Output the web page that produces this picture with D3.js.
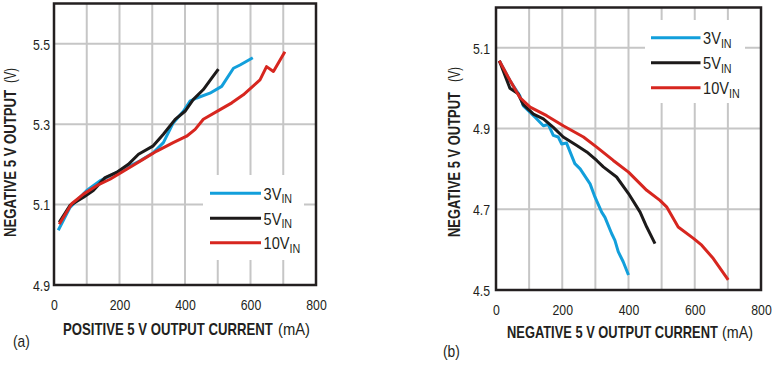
<!DOCTYPE html>
<html><head><meta charset="utf-8">
<script src="https://cdn.jsdelivr.net/npm/d3@7"></script>
<style>
body{margin:0;background:#fff;}
svg{display:block;}
text{font-family:"Liberation Sans Narrow","Arial Narrow","Liberation Sans",Arial,sans-serif;fill:#231f20;}
</style></head>
<body>
<svg id="chart" width="775" height="367"></svg>
<script>
// ---------- data ----------
const xTicks = [0, 200, 400, 600, 800];
const yTicksA = [4.9, 5.1, 5.3, 5.5];
const yTicksB = [4.5, 4.7, 4.9, 5.1];
const seriesNames = ["3V", "5V", "10V"];
const seriesColors = ["#129fdb", "#1c1a1a", "#d7261f"];

// Panel (a): positive 5V output current (mA) vs negative 5V output (V)
const a3V = [[13,5.036],[49,5.093],[100,5.135],[140,5.159],[201,5.184],[263,5.209],[303,5.229],[334,5.254],[364,5.303],[395,5.332],[415,5.357],[436,5.365],[476,5.377],[512,5.394],[548,5.439],[568,5.447],[607,5.465]];
const a5V = [[16,5.056],[49,5.098],[90,5.118],[120,5.135],[156,5.167],[191,5.18],[227,5.2],[258,5.225],[303,5.246],[334,5.275],[370,5.312],[400,5.332],[425,5.361],[456,5.386],[481,5.414],[502,5.437]];
const a10V = [[16,5.051],[54,5.102],[90,5.126],[130,5.147],[171,5.163],[222,5.188],[273,5.213],[314,5.233],[364,5.254],[405,5.27],[431,5.287],[456,5.312],[507,5.336],[543,5.353],[578,5.373],[629,5.41],[649,5.443],[670,5.431],[705,5.48]];

// Panel (b): negative 5V output current (mA) vs negative 5V output (V)
const b3V = [[10,5.068],[42,5.019],[72,4.981],[82,4.957],[118,4.928],[143,4.907],[158,4.91],[173,4.883],[188,4.879],[198,4.862],[213,4.864],[238,4.813],[254,4.8],[284,4.763],[299,4.73],[319,4.693],[329,4.68],[349,4.64],[359,4.623],[369,4.595],[384,4.57],[400,4.537]];
const b5V = [[10,5.068],[42,5.0],[67,4.986],[82,4.96],[113,4.936],[143,4.924],[173,4.903],[203,4.879],[244,4.858],[274,4.842],[304,4.821],[324,4.805],[364,4.78],[400,4.739],[435,4.693],[455,4.656],[480,4.615]];
const b10V = [[10,5.068],[37,5.027],[72,4.977],[103,4.953],[153,4.932],[203,4.907],[264,4.879],[304,4.854],[354,4.821],[400,4.792],[455,4.747],[495,4.722],[515,4.706],[550,4.656],[596,4.628],[621,4.611],[656,4.578],[701,4.525]];

// ---------- drawing ----------
const svg = d3.select("#chart");
const SQ = 0.82; // horizontal condensing of glyphs

// place a text so that it spans exactly `len` pixels, by scaling it horizontally
function fitText(g, str, x, y, len, bold, rotate) {
  const t = g.append("text")
    .style("font-size", "16px").style("font-weight", bold ? "bold" : "normal")
    .text(str);
  const natural = t.node().getComputedTextLength();
  const s = len / natural;
  t.attr("transform", `translate(${x},${y})` + (rotate ? " rotate(-90)" : "") + ` scale(${s},1)`);
  return t;
}

function panel(cfg) {
  const g = svg.append("g");
  const x = d3.scaleLinear().domain([0, 800]).range([cfg.left, cfg.right]);
  const y = d3.scaleLinear().domain(cfg.yDomain).range([cfg.bottom, cfg.top]);

  // gridlines
  const gridX = d3.range(100, 800, 100);
  g.selectAll(".gx").data(gridX).enter().append("line")
    .attr("x1", d => x(d)).attr("x2", d => x(d))
    .attr("y1", cfg.top).attr("y2", cfg.bottom)
    .attr("stroke", "#c6c6c6").attr("stroke-width", 2);
  g.selectAll(".gy").data(cfg.yTicks.slice(1)).enter().append("line")
    .attr("x1", cfg.left).attr("x2", cfg.right)
    .attr("y1", d => y(d)).attr("y2", d => y(d))
    .attr("stroke", "#c6c6c6").attr("stroke-width", 2);

  // legend background
  g.append("rect").attr("x", cfg.legBox[0]).attr("y", cfg.legBox[1])
    .attr("width", cfg.legBox[2]).attr("height", cfg.legBox[3]).attr("fill", "#fff");

  // series
  const line = d3.line().x(d => x(d[0])).y(d => y(d[1]));
  cfg.series.forEach((s, i) => {
    g.append("path").datum(s).attr("d", line)
      .attr("fill", "none").attr("stroke", seriesColors[i])
      .attr("stroke-width", 3).attr("stroke-linejoin", "round").attr("stroke-linecap", "butt");
  });

  // frame
  g.append("rect").attr("x", cfg.left).attr("y", cfg.top)
    .attr("width", cfg.right - cfg.left).attr("height", cfg.bottom - cfg.top)
    .attr("fill", "none").attr("stroke", "#231f20").attr("stroke-width", 2.5);

  // axes (labels only)
  const xAxis = d3.axisBottom(x).tickValues(xTicks).tickSize(0).tickPadding(0).tickFormat(d3.format("d"));
  const xa = g.append("g").attr("transform", `translate(0,${cfg.bottom})`).call(xAxis);
  xa.select(".domain").remove();
  xa.selectAll("text").attr("dy", null).attr("y", cfg.xTickDy)
    .attr("transform", `scale(${SQ},1)`)
    .style("font-size", "15px").attr("fill", "#231f20");

  const yAxis = d3.axisLeft(y).tickValues(cfg.yTicks).tickSize(0).tickFormat(d3.format(".1f"));
  const ya = g.append("g").attr("transform", `translate(${cfg.left},0)`).call(yAxis);
  ya.select(".domain").remove();
  ya.selectAll("text").attr("x", -cfg.yTickPad / SQ).attr("dy", "0.36em")
    .attr("transform", `scale(${SQ},1)`)
    .style("font-size", "15px").attr("fill", "#231f20");

  // axis titles (bold part + unit, each fitted to the reference extent)
  fitText(g, cfg.xTitle, cfg.xTitleBold[0], cfg.xTitleY, cfg.xTitleBold[1] - cfg.xTitleBold[0], true, false);
  fitText(g, "(mA)", cfg.xTitleUnit[0], cfg.xTitleY, cfg.xTitleUnit[1] - cfg.xTitleUnit[0], false, false);
  fitText(g, "NEGATIVE 5 V OUTPUT", cfg.yTitleX, cfg.yTitleBold[1], cfg.yTitleBold[1] - cfg.yTitleBold[0], true, true);
  fitText(g, "(V)", cfg.yTitleX, cfg.yTitleUnit[1], cfg.yTitleUnit[1] - cfg.yTitleUnit[0], false, true);

  // legend
  seriesNames.forEach((n, i) => {
    const ly = cfg.legY[i];
    g.append("line").attr("x1", cfg.legX[0]).attr("x2", cfg.legX[1])
      .attr("y1", ly).attr("y2", ly).attr("stroke", seriesColors[i]).attr("stroke-width", 3);
    const t = g.append("text")
      .attr("transform", `translate(${cfg.legX[1] + 2.5},${ly + 6.5}) scale(0.86,1)`)
      .style("font-size", "17px");
    t.append("tspan").text(n);
    t.append("tspan").attr("dy", 3.5).style("font-size", "12.5px").text("IN");
  });

  // panel label
  g.append("text").attr("transform", `translate(${cfg.tag[0]},${cfg.tag[1]}) scale(0.86,1)`)
    .style("font-size", "16px").text(cfg.tagText);
}

panel({
  left: 54, right: 316, top: 3.5, bottom: 285,
  yDomain: [4.9, 5.6], yTicks: yTicksA,
  series: [a3V, a5V, a10V],
  xTickDy: 25, yTickPad: 4,
  xTitle: "POSITIVE 5 V OUTPUT CURRENT", xTitleBold: [63, 273], xTitleUnit: [278, 310], xTitleY: 335,
  yTitleX: 15.5, yTitleBold: [90, 237], yTitleUnit: [68, 83],
  legBox: [203, 175, 101, 85], legX: [210, 261], legY: [193.3, 218.3, 242.7],
  tag: [13, 347], tagText: "(a)"
});

panel({
  left: 496, right: 761, top: 7.5, bottom: 290,
  yDomain: [4.5, 5.2], yTicks: yTicksB,
  series: [b3V, b5V, b10V],
  xTickDy: 25, yTickPad: 6,
  xTitle: "NEGATIVE 5 V OUTPUT CURRENT", xTitleBold: [507, 718], xTitleUnit: [722, 753], xTitleY: 338,
  yTitleX: 460, yTitleBold: [92, 237], yTitleUnit: [67, 82],
  legBox: [645, 20, 100, 83], legX: [651, 700.5], legY: [37.7, 62.7, 87.7],
  tag: [443, 357], tagText: "(b)"
});
</script>
</body></html>
